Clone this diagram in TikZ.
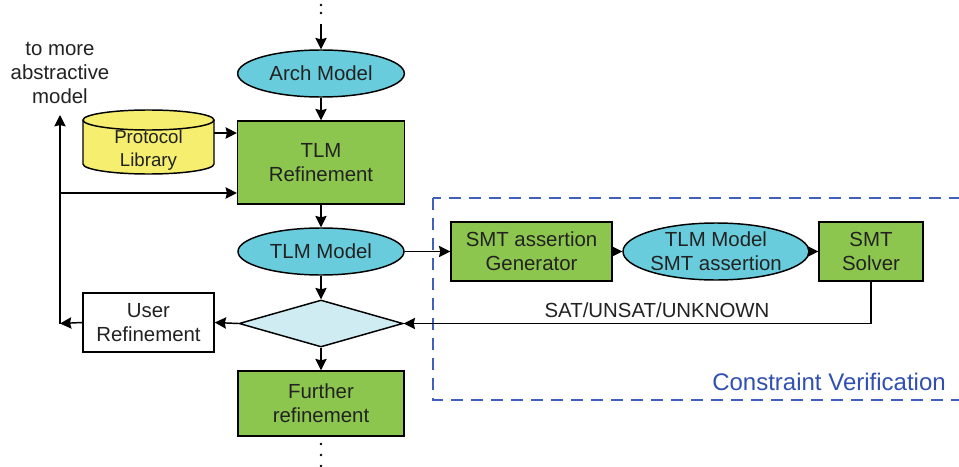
\documentclass[tikz,border=0pt]{standalone}
\usepackage{fontspec}
\setmainfont{Liberation Sans}
\usetikzlibrary{shapes.geometric,arrows.meta}
\definecolor{boxgreen}{RGB}{140,198,78}
\definecolor{ovalcyan}{RGB}{104,204,220}
\definecolor{decisioncyan}{RGB}{207,236,243}
\definecolor{libyellow}{RGB}{245,238,110}
\definecolor{cvblue}{RGB}{64,96,192}
\definecolor{cvtext}{RGB}{48,80,176}
\definecolor{ink}{RGB}{34,34,34}
\tikzset{
  every node/.style={font=\fontsize{15.3}{18.3}\selectfont, text=ink, align=center, inner sep=0pt},
  conn/.style={line width=1.1pt, -{Stealth[length=8.5pt,width=8.5pt,inset=1pt]}},
  greenbox/.style={draw, line width=1.1pt, fill=boxgreen, rectangle},
  oval/.style={draw, line width=1.1pt, fill=ovalcyan, ellipse},
  whitebox/.style={draw, line width=1.1pt, fill=white, rectangle},
  decision/.style={draw, line width=1.1pt, fill=decisioncyan, diamond},
  dotmark/.style={fill=black, circle, minimum size=2pt},
}
\begin{document}
\begin{tikzpicture}[x=0.75pt,y=-0.75pt]
\useasboundingbox (0,0) rectangle (959,467);
\clip (0,0) rectangle (959,467);

% constraint verification frame (open to the right)
\draw[cvblue, line width=1.1pt, dash pattern=on 9pt off 6pt] (433,198) rectangle (975,400);
\node[text=cvtext, font=\fontsize{18}{21}\selectfont, anchor=east] (cvlabel) at (946,382) {Constraint Verification};

% main flow
\node[oval, minimum width=125pt, minimum height=35.25pt] (arch) at (321,73.5) {Arch Model};
\node[greenbox, minimum width=125pt, minimum height=62.25pt] (tlmref) at (321,162.5) {TLM\\Refinement};
\node[oval, minimum width=124.5pt, minimum height=35.25pt] (tlmmodel) at (321,251.5) {TLM Model};
\node[decision, minimum width=123pt, minimum height=35.25pt] (dec) at (321,323.5) {};
\node[greenbox, minimum width=124.5pt, minimum height=48.75pt] (further) at (321,403.5) {Further\\refinement};
\node[whitebox, minimum width=98.25pt, minimum height=44.25pt] (user) at (148.5,322.5) {User\\Refinement};

% protocol library drum (y axis points down, so the lower rim runs 180 -> 0)
\fill[libyellow] (83,120) -- (83,164) arc[start angle=180, end angle=0, x radius=65.5, y radius=10]
  -- (214,120) arc[start angle=0, end angle=-180, x radius=65.5, y radius=10] -- cycle;
\draw[line width=1.1pt] (83,120) -- (83,164) arc[start angle=180, end angle=0, x radius=65.5, y radius=10] -- (214,120);
\draw[line width=1.1pt] (148.5,120) ellipse[x radius=65.5, y radius=10];
\node[font=\fontsize{14}{17}\selectfont, minimum width=98.25pt, minimum height=48pt] (lib) at (148.5,150) {Protocol\\Library};

% verification chain
\node[greenbox, minimum width=120.75pt, minimum height=44.25pt] (gen) at (531.5,251.5) {SMT assertion\\Generator};
\node[oval, minimum width=121.5pt, minimum height=42.75pt] (smtmodel) at (716,251.5) {TLM Model\\SMT assertion};
\node[greenbox, minimum width=78pt, minimum height=44.25pt] (solver) at (871,251.5) {SMT\\Solver};

% side text
\node (upnote) at (60,73) {to more\\abstractive\\model};

% dotted continuations
\foreach \y in {5,13} \node[dotmark] at (321,\y) {};
\foreach \y in {444,455,466} \node[dotmark] at (321,\y) {};
\coordinate (topin) at (321,24);

% feedback rail on the left
\coordinate (railtop) at (60,115);
\coordinate (railjoin) at (60,193);
\coordinate (railbot) at (60,323.5);

% connectors
\draw[conn] (topin) -- (arch);
\draw[conn] (arch) -- (tlmref);
\draw[conn] (tlmref) -- (tlmmodel);
\draw[conn] (tlmmodel) -- (dec);
\draw[conn] (dec) -- (further);
\draw[conn] (lib.east |- 0,133) -- (tlmref.west |- 0,133);
\draw[conn] (dec.west) -- (user.east);
\draw[conn] (user.west) -- (railbot);
\draw[conn] (railbot) -- (railtop);
\draw[conn] (railjoin) -- (tlmref.west |- railjoin);
\draw[conn] (tlmmodel.east) -- (gen.west);
\draw[conn] (gen.east) -- (smtmodel.west);
\draw[conn] (smtmodel.east) -- (solver.west);
\draw[conn] (solver.south) -- (solver.south |- dec.east) -- (dec.east);
\node (satlabel) at (657,310) {SAT/UNSAT/UNKNOWN};
\end{tikzpicture}
\end{document}
